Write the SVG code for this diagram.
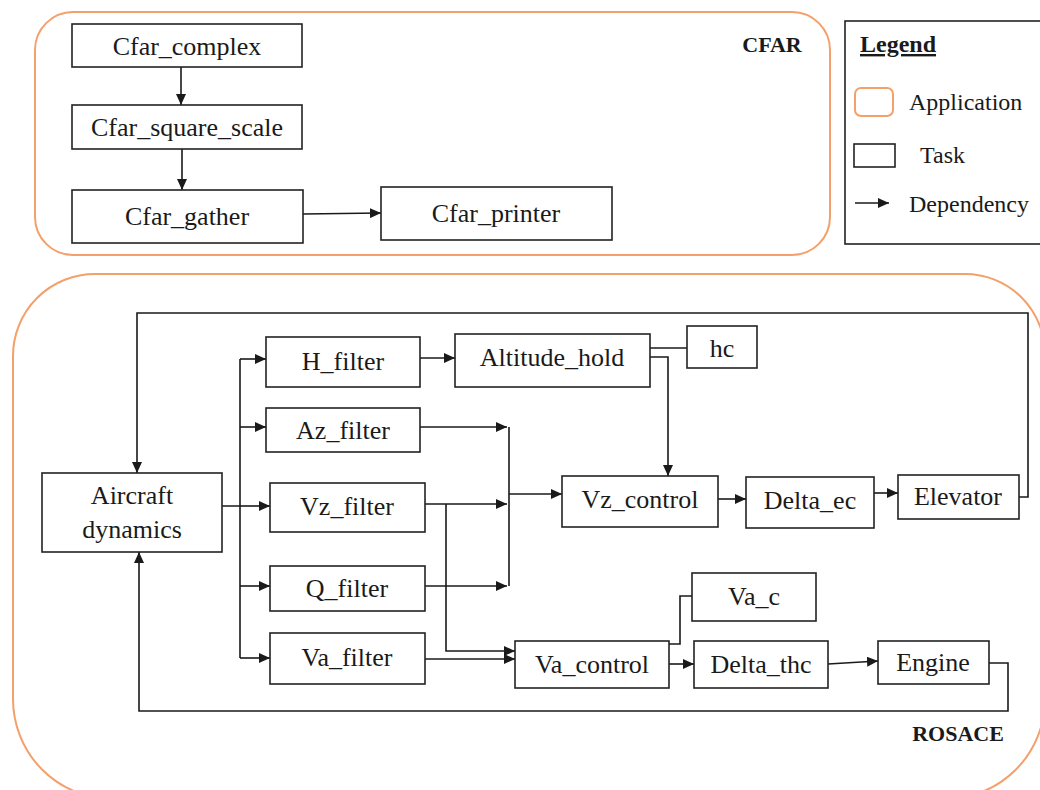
<svg xmlns="http://www.w3.org/2000/svg" width="1040" height="790" viewBox="0 0 1040 790">
<style>
.app{fill:none;stroke:#F4A06A;stroke-width:2}
.task{fill:#fff;stroke:#222;stroke-width:1.6}
.lbl{font-family:"Liberation Serif","Times New Roman",serif;font-size:26px;fill:#1a1a1a;text-anchor:middle}
.leg{font-family:"Liberation Serif","Times New Roman",serif;font-size:24px;fill:#1a1a1a}
.title{font-family:"Liberation Serif","Times New Roman",serif;font-size:22px;font-weight:bold;fill:#1a1a1a;text-anchor:middle}
.con{fill:none;stroke:#1a1a1a;stroke-width:1.6}
.arr{marker-end:url(#ah)}
</style>
<defs>
<marker id="ah" markerUnits="userSpaceOnUse" markerWidth="11" markerHeight="10" refX="11" refY="5" orient="auto">
<path d="M0,0 L11,5 L0,10 z" fill="#1a1a1a"/>
</marker>
</defs>
<rect width="1040" height="790" fill="#fff"/>

<g id="app-cfar">
<rect class="app" x="35" y="12" width="795" height="243" rx="38"/>
<text class="title" x="772" y="52">CFAR</text>
</g>
<g id="app-rosace">
<path class="app" d="M95,274 H965 A80,80 0 0 1 1045,354 V699 A100,100 0 0 1 945,799 H113 A100,100 0 0 1 13,699 V356 A82,82 0 0 1 95,274 Z"/>
<text class="title" x="958" y="741">ROSACE</text>
</g>

<g id="legend">
<rect x="845" y="21" width="205" height="223" fill="none" stroke="#222" stroke-width="1.6"/>
<text class="leg" x="860" y="52" font-weight="bold" text-decoration="underline">Legend</text>
<rect class="app" x="855" y="88" width="38" height="28" rx="6"/>
<text class="leg" x="909" y="110">Application</text>
<rect class="task" x="854" y="144" width="41" height="23"/>
<text class="leg" x="920" y="163">Task</text>
<path class="con arr" d="M855,203 L889,203"/>
<text class="leg" x="909" y="212">Dependency</text>
</g>

<g id="connectors">
<path class="con arr" d="M181,67 L181,105"/>
<path class="con arr" d="M182,149 L182,190"/>
<path class="con arr" d="M303,214 L381,213"/>

<path class="con arr" d="M1019,497 L1028,497 L1028,313 L137,313 L137,473"/>
<path class="con arr" d="M989,663 L1008,663 L1008,711 L139,711 L139,552"/>
<path class="con" d="M222,506 L240,506 M240,359 L240,658"/>
<path class="con arr" d="M240,359 L266,359"/>
<path class="con arr" d="M240,427 L266,427"/>
<path class="con arr" d="M240,506 L270,506"/>
<path class="con arr" d="M240,586 L270,586"/>
<path class="con arr" d="M240,658 L270,658"/>
<path class="con arr" d="M420,358 L455,358"/>
<path class="con" d="M650,348 L687,348"/>
<path class="con arr" d="M650,357 L668,357 L668,476"/>
<path class="con arr" d="M420,427 L507,427"/>
<path class="con arr" d="M425,504 L507,504" stroke="#555"/>
<path class="con arr" d="M425,586 L507,586"/>
<path class="con" d="M509,427 L509,504"/>
<path class="con" d="M509,504 L509,586" stroke="#888"/>
<path class="con arr" d="M509,494 L562,494"/>
<path class="con arr" d="M446,504 L446,651 L515,651"/>
<path class="con arr" d="M425,659 L515,659"/>
<path class="con" d="M669,644 L680,644 L680,596 L692,596"/>
<path class="con arr" d="M669,664 L694,664"/>
<path class="con arr" d="M828,664 L878,661"/>
<path class="con arr" d="M718,499 L746,499"/>
<path class="con arr" d="M874,493 L898,493"/>
</g>

<g id="cfar-complex"><rect class="task" x="72" y="24" width="230" height="43"/><text class="lbl" x="187" y="55">Cfar_complex</text></g>
<g id="cfar-square-scale"><rect class="task" x="72" y="105" width="230" height="44"/><text class="lbl" x="187" y="136">Cfar_square_scale</text></g>
<g id="cfar-gather"><rect class="task" x="72" y="190" width="231" height="53"/><text class="lbl" x="187" y="225">Cfar_gather</text></g>
<g id="cfar-printer"><rect class="task" x="381" y="187" width="231" height="53"/><text class="lbl" x="496" y="222">Cfar_printer</text></g>

<g id="aircraft-dynamics"><rect class="task" x="42" y="473" width="180" height="79"/><text class="lbl" x="132" y="504">Aircraft</text><text class="lbl" x="132" y="538">dynamics</text></g>
<g id="h-filter"><rect class="task" x="266" y="337" width="154" height="50"/><text class="lbl" x="343" y="370">H_filter</text></g>
<g id="az-filter"><rect class="task" x="266" y="408" width="154" height="44"/><text class="lbl" x="343" y="439">Az_filter</text></g>
<g id="vz-filter"><rect class="task" x="270" y="483" width="155" height="49"/><text class="lbl" x="347" y="515">Vz_filter</text></g>
<g id="q-filter"><rect class="task" x="270" y="566" width="155" height="45"/><text class="lbl" x="347" y="597">Q_filter</text></g>
<g id="va-filter"><rect class="task" x="270" y="633" width="155" height="51"/><text class="lbl" x="347" y="666">Va_filter</text></g>
<g id="altitude-hold"><rect class="task" x="455" y="334" width="195" height="53"/><text class="lbl" x="552" y="366">Altitude_hold</text></g>
<g id="hc"><rect class="task" x="687" y="326" width="70" height="42"/><text class="lbl" x="722" y="357">hc</text></g>
<g id="vz-control"><rect class="task" x="562" y="476" width="156" height="51"/><text class="lbl" x="640" y="508">Vz_control</text></g>
<g id="delta-ec"><rect class="task" x="746" y="477" width="128" height="51"/><text class="lbl" x="810" y="509">Delta_ec</text></g>
<g id="elevator"><rect class="task" x="898" y="475" width="121" height="44"/><text class="lbl" x="958" y="505">Elevator</text></g>
<g id="va-c"><rect class="task" x="692" y="573" width="124" height="48"/><text class="lbl" x="754" y="605">Va_c</text></g>
<g id="va-control"><rect class="task" x="515" y="641" width="154" height="47"/><text class="lbl" x="592" y="673">Va_control</text></g>
<g id="delta-thc"><rect class="task" x="694" y="641" width="134" height="47"/><text class="lbl" x="761" y="673">Delta_thc</text></g>
<g id="engine"><rect class="task" x="878" y="641" width="111" height="43"/><text class="lbl" x="933" y="671">Engine</text></g>
</svg>
